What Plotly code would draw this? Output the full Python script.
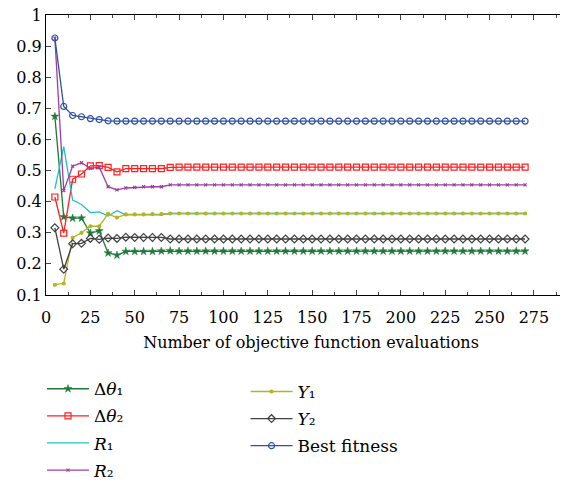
import plotly.graph_objects as go

evals = list(range(5, 275, 5))  # 5..270
n = len(evals)

def pad(head, tail_val):
    return head + [tail_val] * (n - len(head))

best_fitness = pad([0.926, 0.706, 0.677, 0.673, 0.667, 0.664, 0.660, 0.659], 0.659)
dtheta2 = pad([0.415, 0.299, 0.472, 0.489, 0.515, 0.516, 0.510, 0.496, 0.506, 0.506,
               0.506, 0.506, 0.506, 0.510], 0.511)
r2 = pad([0.926, 0.436, 0.514, 0.525, 0.507, 0.511, 0.448, 0.438, 0.444, 0.446,
          0.448, 0.448, 0.448, 0.454], 0.454)
r1 = pad([0.441, 0.577, 0.405, 0.391, 0.365, 0.367, 0.354, 0.371, 0.358, 0.358,
          0.358, 0.358, 0.358, 0.362], 0.362)
y1 = pad([0.133, 0.137, 0.284, 0.300, 0.321, 0.321, 0.361, 0.349, 0.359, 0.359,
          0.359, 0.360, 0.360, 0.362], 0.362)
y2 = pad([0.316, 0.183, 0.265, 0.266, 0.282, 0.279, 0.283, 0.282, 0.286, 0.285,
          0.285, 0.285, 0.285, 0.280], 0.280)
dtheta1 = pad([0.674, 0.351, 0.347, 0.347, 0.299, 0.306, 0.235, 0.228, 0.240, 0.240,
               0.240, 0.240, 0.241, 0.242], 0.241)

x_tickvals = list(range(0, 300, 25))
y_tickvals = [0.1, 0.2, 0.3, 0.4, 0.5, 0.6, 0.7, 0.8, 0.9, 1.0]
y_ticktext = ["0.1", "0.2", "0.3", "0.4", "0.5", "0.6", "0.7", "0.8", "0.9", "1"]

FONT = "DejaVu Serif"

fig = go.Figure()

def add(y, name, color, symbol=None, msize=6, legend="legend", group=None, lw=1.3, mlw=1.2):
    mode = "lines+markers" if symbol else "lines"
    marker = None
    if symbol:
        marker = dict(symbol=symbol, size=msize, color=color,
                      line=dict(color=color, width=mlw))
    fig.add_trace(go.Scatter(x=evals, y=y, name=name, mode=mode,
                             line=dict(color=color, width=lw),
                             marker=marker, legend=legend, legendgroup=group))

add(dtheta1, "Δ<i>θ</i>₁", "#1f7a3a", "star", 6, "legend", "a", mlw=0.5)
add(dtheta2, "Δ<i>θ</i>₂", "#ff2020", "square-open", 6, "legend", "b")
add(r1, "<i>R</i>₁", "#22c0c8", None, 6, "legend", "c")
add(r2, "<i>R</i>₂", "#a03ca0", "x-thin-open", 3, "legend", "d")
add(y1, "<i>Y</i>₁", "#b4b422", "circle", 3, "legend2", "e")
add(y2, "<i>Y</i>₂", "#404040", "diamond-open", 6, "legend2", "f")
add(best_fitness, "Best fitness", "#2e4ea8", "circle-open", 6, "legend2", "g")

leg_common = dict(xanchor="left",
                  font=dict(family=FONT, size=17, color="black"), tracegroupgap=2,
                  bgcolor="rgba(0,0,0,0)", itemwidth=42)

# the page body adds an 8px offset, so margins are reduced to compensate
fig.update_layout(
    width=568, height=483,
    margin=dict(l=38, r=0, t=7, b=196),
    paper_bgcolor="white", plot_bgcolor="white",
    font=dict(family=FONT, size=16, color="black"),
    showlegend=True,
    legend=dict(x=-0.0075, y=-0.69, yanchor="bottom", **leg_common),
    legend2=dict(x=0.3765, y=-0.282, yanchor="top", **leg_common),
)

fig.update_xaxes(
    range=[0, 298.7], tickvals=x_tickvals, ticks="inside", ticklen=5, automargin=False,
    showline=True, linecolor="black", linewidth=1.2, mirror="ticks",
    showgrid=False, zeroline=False, tickfont=dict(family=FONT, size=16, color="black"),
    ticklabelstandoff=8, ticklabeloverflow="allow",
    minor=dict(dtick=12.5, tick0=0, ticks="inside", ticklen=3, showgrid=False),
    title=dict(text="Number of objective function evaluations",
               font=dict(family=FONT, size=16, color="black"), standoff=10),
)
fig.update_yaxes(
    range=[0.1, 1.0], tickvals=y_tickvals, ticktext=y_ticktext, ticks="inside", ticklen=5,
    automargin=False, ticklabeloverflow="allow",
    showline=True, linecolor="black", linewidth=1.2, mirror=False,
    showgrid=False, zeroline=False, tickfont=dict(family=FONT, size=16, color="black"),
)

fig.write_html("out.html")
